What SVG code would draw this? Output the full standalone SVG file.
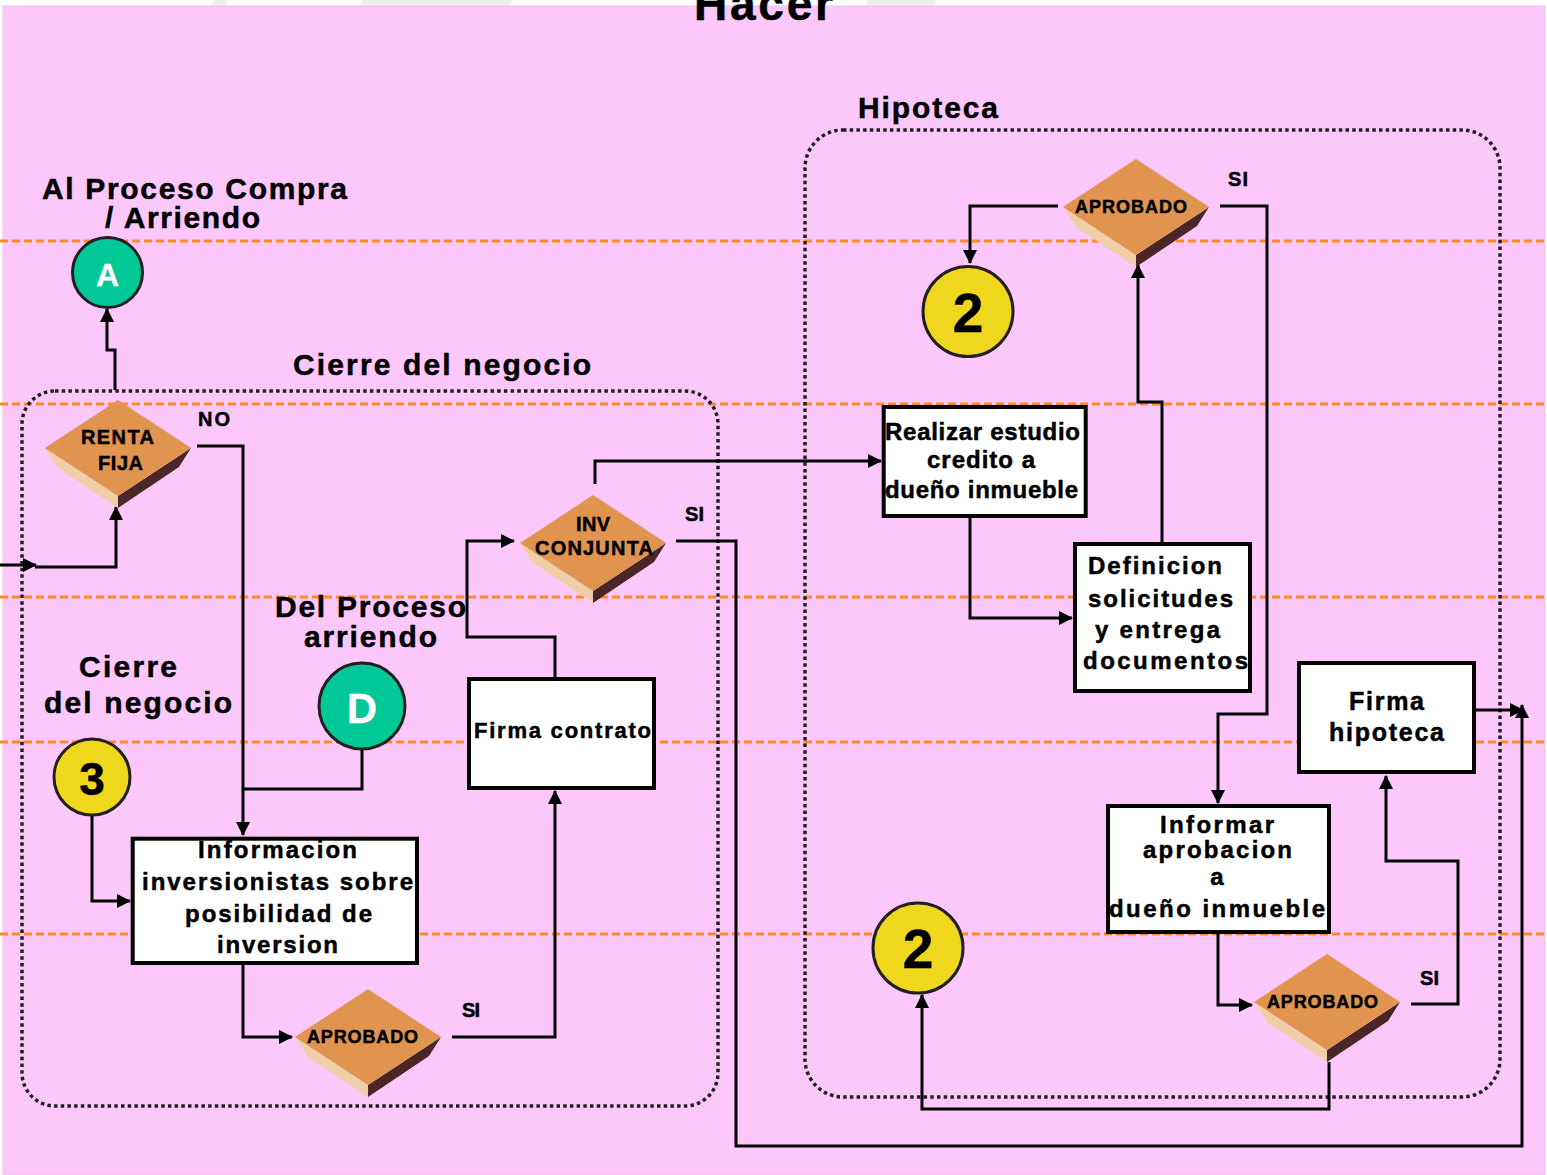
<svg xmlns="http://www.w3.org/2000/svg" width="1547" height="1175" viewBox="0 0 1547 1175">
<style>
text{font-family:"Liberation Sans",Arial,sans-serif;font-weight:bold;fill:#000;text-anchor:middle;stroke:#000;stroke-width:0.5}
.w{fill:#fff;stroke:#fff;stroke-width:0.3}
.h{font-size:30px}
.bx{font-size:24px}
.dm{font-size:18px}
.lb{font-size:20px}
.guide{stroke:#FF8A20;stroke-width:3;stroke-dasharray:8 4;fill:none}
.cont{fill:none;stroke:#231F20;stroke-width:3.5;stroke-dasharray:3.5 3.2}
.box{fill:#fff;stroke:#000;stroke-width:4}
.cy{fill:#EFD71D;stroke:#231F20;stroke-width:3}
.cg{fill:#00C896;stroke:#231F20;stroke-width:3}
.ft{fill:#E0944F}.fl{fill:#F0CFA8}.fd{fill:#4A2626}
.ln{fill:none;stroke:#000;stroke-width:3;marker-end:url(#ah)}
.ln0{fill:none;stroke:#000;stroke-width:3}
</style>
<defs>
<marker id="ah" markerUnits="userSpaceOnUse" viewBox="0 0 14 14" markerWidth="14" markerHeight="14" refX="13" refY="7" orient="auto">
<path d="M0,0 L14,7 L0,14 z" fill="#000"/>
</marker>
<g id="dia">
<polygon class="fl" points="-73,0 0,48 0,60 -60,20"/>
<polygon class="fd" points="73,0 0,48 0,60 61,19"/>
<polygon class="ft" points="-73,0 0,-48 73,0 0,48"/>
</g>
</defs>

<rect x="0" y="0" width="1547" height="1175" fill="#fff"/>
<polygon points="213,0 228,0 226,6 211,6" fill="#EFEFEF"/>
<polygon points="362,0 512,0 510,6 360,6" fill="#EFEFEF"/>
<polygon points="868,0 938,0 934,6 866,6" fill="#EFEFEF"/>
<rect x="3" y="6" width="1542" height="1169" fill="#FCC8FC" stroke="#EBC3EB" stroke-width="1"/>
<text x="763.5" y="20" style="font-size:46px" textLength="139">Hacer</text>

<g id="guides">
<line class="guide" x1="0" y1="241" x2="1547" y2="241"/>
<line class="guide" x1="0" y1="404" x2="1547" y2="404"/>
<line class="guide" x1="0" y1="597" x2="1547" y2="597"/>
<line class="guide" x1="0" y1="742" x2="1547" y2="742"/>
<line class="guide" x1="0" y1="934" x2="1547" y2="934"/>
</g>

<g id="containers">
<rect class="cont" x="22" y="391" width="696" height="715" rx="33"/>
<rect class="cont" x="805" y="130" width="695" height="967" rx="38"/>
</g>

<g id="labels">
<text class="h" x="858" y="118" style="text-anchor:start" textLength="140">Hipoteca</text>
<text class="h" x="194.5" y="199" textLength="305">Al Proceso Compra</text>
<text class="h" x="182.5" y="228" textLength="155">/ Arriendo</text>
<text class="h" x="442" y="375" textLength="298">Cierre del negocio</text>
<text class="h" x="370.5" y="617" textLength="191">Del Proceso</text>
<text class="h" x="370.5" y="647" textLength="133">arriendo</text>
<text class="h" x="128" y="677" textLength="98">Cierre</text>
<text class="h" x="138" y="713" textLength="188">del negocio</text>
<text class="lb" x="214" y="426" textLength="32">NO</text>
<text class="lb" x="694.5" y="521" textLength="19">SI</text>
<text class="lb" x="1238" y="186" textLength="20">SI</text>
<text class="lb" x="471" y="1017" textLength="18">SI</text>
<text class="lb" x="1429.5" y="985" textLength="19">SI</text>
</g>

<g id="connectors">
<path class="ln" d="M0,565 H36"/>
<path class="ln" d="M35,567 H116 V507"/>
<path class="ln" d="M115,390 V350 H107 V309"/>
<path class="ln" d="M197,446 H243 V835"/>
<path class="ln0" d="M362,750 V789 H243"/>
<path class="ln" d="M92,816 V901 H130"/>
<path class="ln" d="M243,965 V1037 H292"/>
<path class="ln" d="M452,1037 H555 V791"/>
<path class="ln" d="M555,677 V637 H467 V541 H514"/>
<path class="ln" d="M595,484 V461 H881"/>
<path class="ln" d="M676,541 H736 V1146 H1522 V705"/>
<path class="ln" d="M1476,710 H1523"/>
<path class="ln" d="M970,518 V618 H1072"/>
<path class="ln" d="M1162,542 V402 H1138 V265"/>
<path class="ln" d="M1058,206 H970 V263"/>
<path class="ln" d="M1220,206 H1267 V714 H1218 V803"/>
<path class="ln" d="M1218,934 V1005 H1252"/>
<path class="ln" d="M1411,1004 H1458 V861 H1386 V776"/>
<path class="ln" d="M1329,1062 V1109 H922 V995"/>
</g>

<g id="n-A"><circle class="cg" cx="107.5" cy="272.5" r="35"/><text class="w" x="107.5" y="286" style="font-size:32px">A</text></g>
<g id="n-D"><circle class="cg" cx="362" cy="706" r="43"/><text class="w" x="362" y="723" style="font-size:42px">D</text></g>
<g id="n-3"><circle class="cy" cx="92" cy="777" r="38"/><text x="92" y="795" style="font-size:46px">3</text></g>
<g id="n-2a"><circle class="cy" cx="968" cy="311.5" r="45"/><text x="968" y="332" style="font-size:55px">2</text></g>
<g id="n-2b"><circle class="cy" cx="918" cy="948" r="45"/><text x="918" y="968" style="font-size:55px">2</text></g>

<g id="n-rentafija"><use href="#dia" x="118" y="448"/>
<text x="117.5" y="444" style="font-size:20px" textLength="73">RENTA</text>
<text x="120.5" y="470" style="font-size:20px" textLength="45">FIJA</text></g>
<g id="n-invconjunta"><use href="#dia" x="593" y="543"/>
<text x="593" y="531" style="font-size:20px" textLength="34">INV</text>
<text x="594" y="555" style="font-size:20px" textLength="118">CONJUNTA</text></g>
<g id="n-aprob1"><use href="#dia" x="1136" y="207"/>
<text class="dm" x="1131" y="213" textLength="112">APROBADO</text></g>
<g id="n-aprob2"><use href="#dia" x="368" y="1037"/>
<text class="dm" x="362.5" y="1043" textLength="111">APROBADO</text></g>
<g id="n-aprob3"><use href="#dia" x="1327" y="1002"/>
<text class="dm" x="1322.5" y="1008" textLength="111">APROBADO</text></g>

<g id="n-informacion"><rect class="box" x="132.7" y="838.7" width="284.3" height="124.3"/>
<text class="bx" x="277.5" y="858" textLength="159">Informacion</text>
<text class="bx" x="277.5" y="890" textLength="271">inversionistas sobre</text>
<text class="bx" x="278.5" y="922" textLength="187">posibilidad de</text>
<text class="bx" x="277.5" y="953" textLength="121">inversion</text></g>
<g id="n-firmacontrato"><rect class="box" x="469" y="679" width="185" height="109"/>
<text x="562.5" y="738" style="font-size:22px" textLength="177">Firma contrato</text></g>
<g id="n-realizar"><rect class="box" x="883.7" y="407" width="202" height="109"/>
<text class="bx" x="982.5" y="440" textLength="195">Realizar estudio</text>
<text class="bx" x="981" y="468" textLength="108">credito a</text>
<text class="bx" x="981.5" y="498" textLength="193">dueño inmueble</text></g>
<g id="n-definicion"><rect class="box" x="1075" y="544" width="175" height="147"/>
<text class="bx" x="1155" y="574" textLength="134">Definicion</text>
<text class="bx" x="1160.5" y="607" textLength="145">solicitudes</text>
<text class="bx" x="1157.5" y="638" textLength="125">y entrega</text>
<text class="bx" x="1165.5" y="669" textLength="165">documentos</text></g>
<g id="n-firmahipoteca"><rect class="box" x="1299" y="663" width="175" height="109"/>
<text x="1386.5" y="710" style="font-size:25px" textLength="75">Firma</text>
<text x="1386.5" y="741" style="font-size:25px" textLength="115">hipoteca</text></g>
<g id="n-informar"><rect class="box" x="1108" y="806" width="221" height="126"/>
<text class="bx" x="1217" y="833" textLength="114">Informar</text>
<text class="bx" x="1217.5" y="858" textLength="149">aprobacion</text>
<text class="bx" x="1217" y="885">a</text>
<text class="bx" x="1217" y="917" textLength="216">dueño inmueble</text></g>
</svg>
